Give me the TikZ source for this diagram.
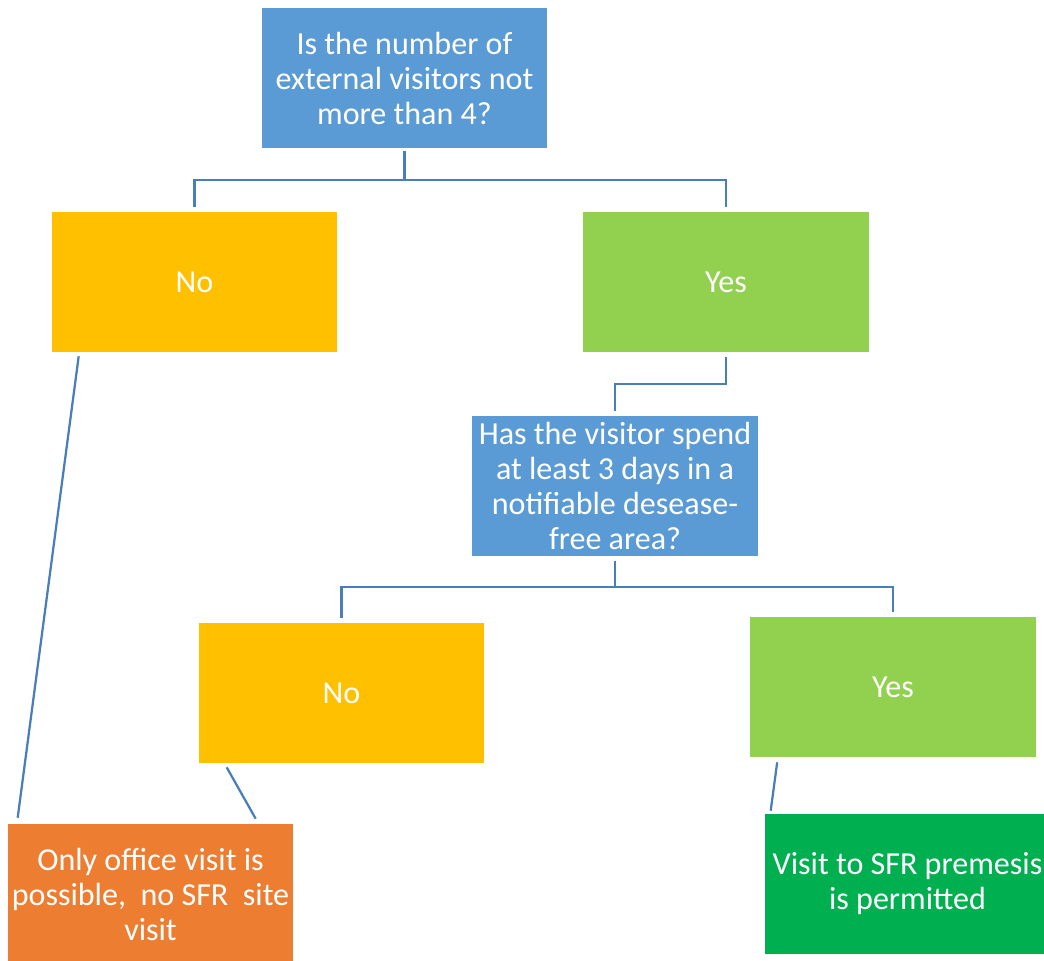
\documentclass[tikz,border=0pt]{standalone}
\usepackage{fontspec}
\setmainfont{Carlito}
\definecolor{qblue}{HTML}{5B9BD5}
\definecolor{noamber}{HTML}{FFC000}
\definecolor{yeslime}{HTML}{92D050}
\definecolor{endorange}{HTML}{ED7D31}
\definecolor{endgreen}{HTML}{00B050}
\definecolor{linkblue}{HTML}{4A7EBB}
\begin{document}
\begin{tikzpicture}[x=0.025cm,y=-0.025cm,
        box/.style={minimum width=7.125cm,minimum height=3.5cm,inner sep=0pt,
            text=white,align=center,font=\fontsize{22.8}{24.9}\selectfont},
        link/.style={linkblue,line width=1.6pt}]
    \useasboundingbox (0,0) rectangle (1044,960);
    %% questions
    \node[box,fill=qblue] (q1) at (404.5,78) {Is the number of\\external visitors not\\more than 4?};
    \node[box,fill=qblue] (q2) at (615,486) {Has the visitor spend\\at least 3 days in a\\notifiable desease-\\free area?};
    %% answers
    \node[box,fill=noamber] (no1) at (194.5,282) {No};
    \node[box,fill=yeslime] (yes1) at (726,282) {Yes};
    \node[box,fill=noamber] (no2) at (341.5,693) {No};
    \node[box,fill=yeslime] (yes2) at (893,687) {Yes};
    %% outcomes
    \node[box,fill=endorange] (office) at (150.5,894) {Only office visit is\\possible,\ \ no SFR\ \ site\\visit};
    \node[box,fill=endgreen] (permit) at (907.5,884) {Visit to SFR premesis\\is permitted};
    %% links
    \draw[link,shorten <=2pt,shorten >=3pt] (q1.south) -- ++(0,32) -| (no1.north);
    \draw[link,shorten <=2pt,shorten >=3pt] (q1.south) -- ++(0,32) -| (yes1.north);
    \draw[link,shorten <=3pt,shorten >=3pt] (yes1.south) -- ++(0,32) -| (q2.north);
    \draw[link,shorten <=3pt,shorten >=3pt] (q2.south) -- ++(0,31) -| (no2.north);
    \draw[link,shorten <=3pt,shorten >=3pt] (q2.south) -- ++(0,31) -| (yes2.north);
    \draw[link] ([shift={(27,4)}]no1.south west) -- ([shift={(10,-6)}]office.north west);
    \draw[link] ([shift={(28,4)}]no2.south west) -- ([shift={(248,-5)}]office.north west);
    \draw[link] ([shift={(27,5)}]yes2.south west) -- ([shift={(6,-3)}]permit.north west);
\end{tikzpicture}
\end{document}
